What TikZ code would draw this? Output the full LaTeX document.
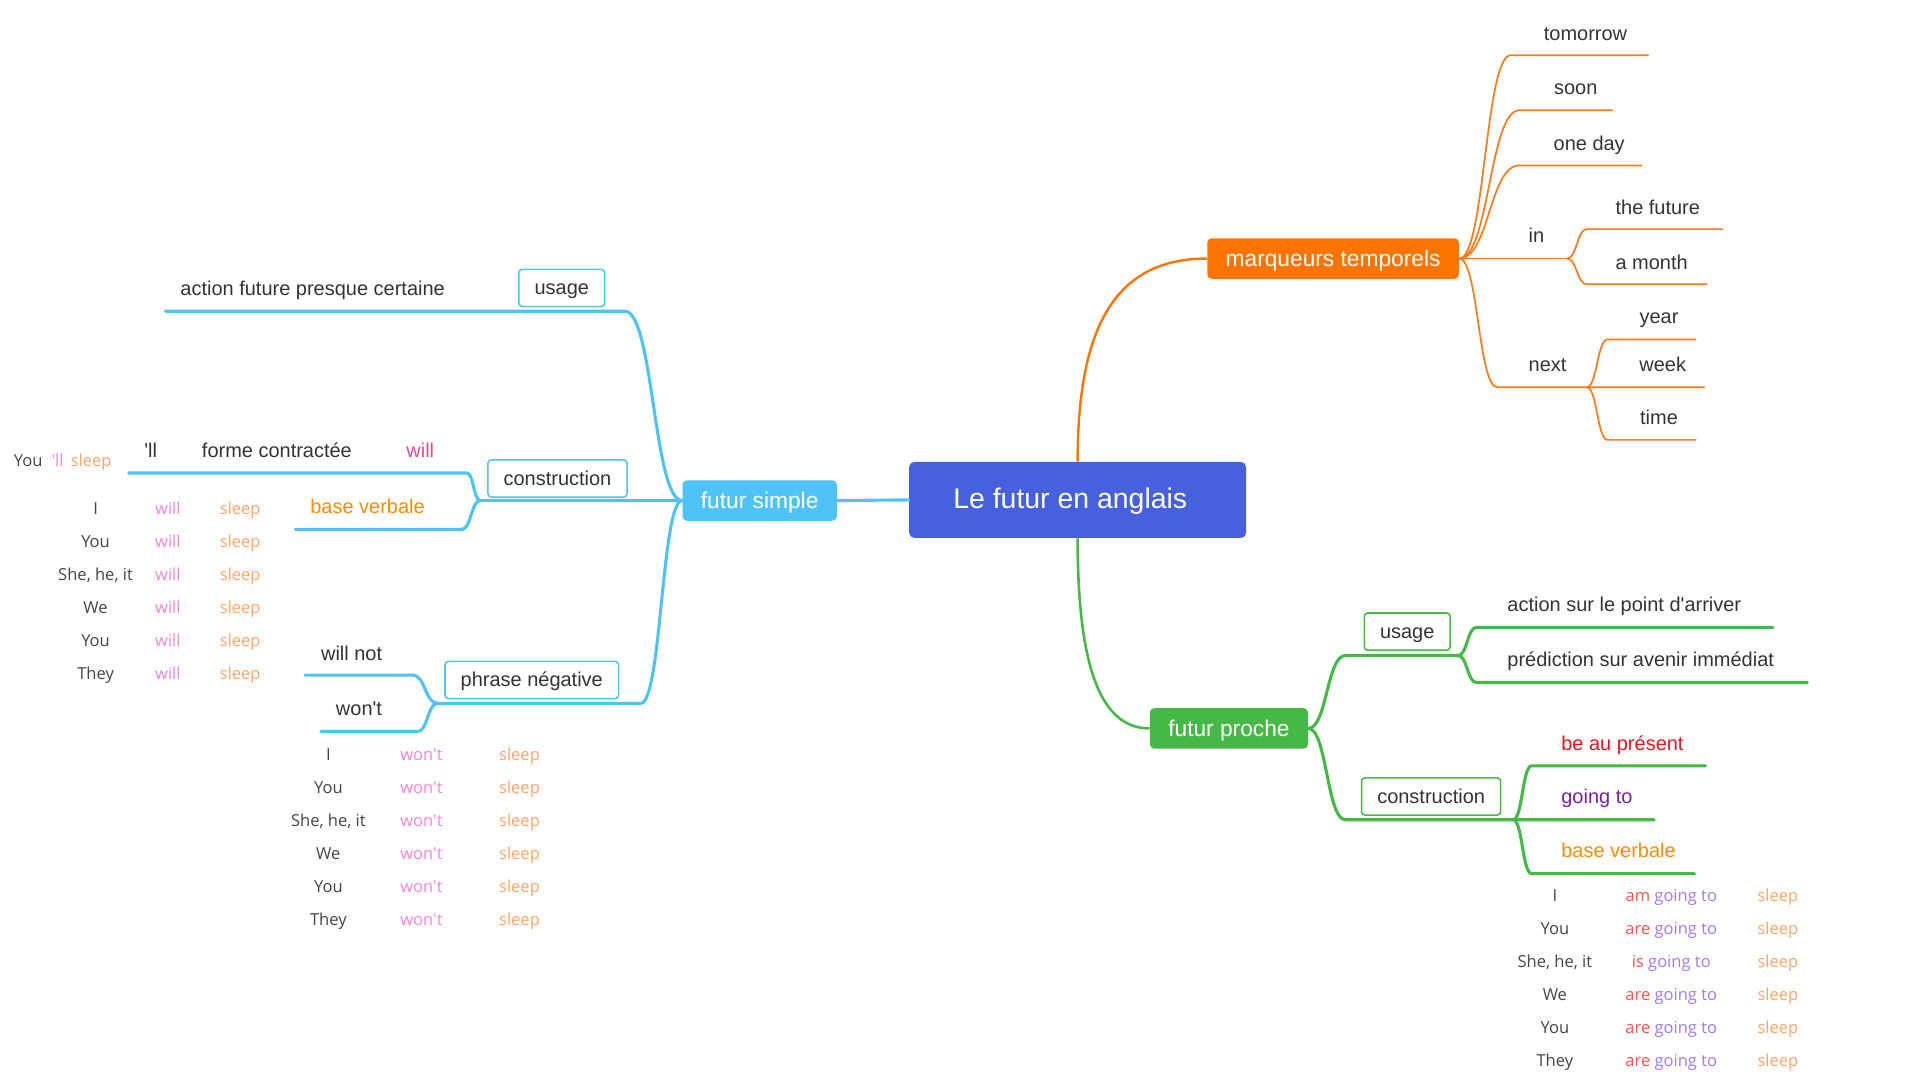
\documentclass[tikz,border=0pt]{standalone}
\usepackage{fontspec}
\setmainfont{Liberation Sans}
\newfontfamily\mainf{Liberation Sans}
\newfontfamily\lightf{Open Sans}
\usetikzlibrary{calc}
\definecolor{cblue}{HTML}{4760DE}
\definecolor{sky}{HTML}{4FC3F7}
\definecolor{orng}{HTML}{FF7300}
\definecolor{orngl}{HTML}{FF7A1A}
\definecolor{grn}{HTML}{45B945}
\definecolor{txt}{HTML}{333333}
\definecolor{tblt}{HTML}{444444}
\definecolor{pinkw}{HTML}{F585DA}
\definecolor{sleepc}{HTML}{FFA468}
\definecolor{redc}{HTML}{E8141E}
\definecolor{purp}{HTML}{7B1FA2}
\definecolor{basec}{HTML}{FF8A00}
\definecolor{hotpink}{HTML}{E94B8B}
\definecolor{amred}{HTML}{FF5050}
\definecolor{goingc}{HTML}{A07AF4}
\tikzset{
  lbl/.style={font=\mainf\fontsize{11.6}{13}\selectfont, text=txt, inner sep=0pt, anchor=mid, yshift=-0.6mm},
  lblw/.style={lbl, anchor=mid west},
  tbl/.style={font=\lightf\fontsize{9.6}{11}\selectfont, inner sep=0pt, anchor=mid, yshift=-0.5mm},
  grp/.style={rounded corners=2.5pt, font=\mainf\fontsize{13.2}{15}\selectfont, text=white, inner xsep=3.75mm, inner ysep=0pt, minimum height=8.25mm, text height=0.9em, text depth=0pt},
  subbox/.style={draw, fill=white, rounded corners=2pt, line width=0.9pt, font=\mainf\fontsize{11.6}{13}\selectfont, text=txt, inner xsep=3.2mm, inner ysep=0pt, minimum height=7.6mm, text height=0.8em, text depth=0pt},
  thickbr/.style={line width=1.8pt, line cap=round, line join=round},
  thinbr/.style={line width=1pt, line cap=round, line join=round},
}
\newcommand{\bcurve}[4]{\draw[#1] let \p1=(#2), \p2=(#3) in (#2) .. controls ({0.5*\x1+0.5*\x2},\y1) and ({0.5*\x1+0.5*\x2},\y2) .. (#3) -- (#4);}
\begin{document}
\begin{tikzpicture}[x=0.25mm,y=-0.25mm]
\useasboundingbox (0,0) rectangle (1567,881);

% ---------- main nodes ----------
\node[fill=cblue, rounded corners=3pt, minimum width=68.75mm, minimum height=15.5mm, text=white, font=\mainf\fontsize{16.5}{19}\selectfont, text height=0.95em, text depth=0pt] (root) at (879.5,408) {\kern-3mm Le futur en anglais};
\node[grp, fill=sky] (fs) at (620,408.5) {futur simple};
\node[grp, fill=orng] (mt) at (1088,211) {marqueurs temporels};
\node[grp, fill=grn] (fp) at (1003,594.5) {futur proche};

\draw[sky, thickbr] (root.west) -- (fs.east);
\draw[orng, line width=1.4pt] (root.north) .. controls +(0,-110) and +(-75,0) .. (mt.west);
\draw[grn, line width=1.5pt] (root.south) .. controls +(0,105) and +(-40,0) .. (fp.west);

% ---------- futur simple ----------
\node[subbox, draw=sky] (u1) at (458.5,235) {usage};
\node[lblw] (a1) at (147,235) {action future presque certaine};
\coordinate (u1a) at (510,254);
\coordinate (u1b) at (135,254);
\bcurve{sky, thickbr}{fs.west}{u1a}{u1b}

\node[subbox, draw=sky] (c1) at (455,390.5) {construction};
\coordinate (cj) at (392,408.5);
\draw[sky, thickbr] (fs.west) -- (cj);
\coordinate (fc1) at (381,386);
\coordinate (fc2) at (105,386);
\coordinate (bv1) at (377,432);
\coordinate (bv2) at (241,432);
\bcurve{sky, thickbr}{cj}{fc1}{fc2}
\bcurve{sky, thickbr}{cj}{bv1}{bv2}
\node[lbl, text=hotpink] (willc) at (343,367) {will};
\node[lbl] (fct) at (226,367) {forme contractée};
\node[lbl] (ll) at (123,367) {'ll};
\node[tbl, anchor=mid west] (yls) at (11,375) {\textcolor{tblt}{You}\hspace{1mm} \textcolor{pinkw}{'ll}\hspace{0.6mm} \textcolor{sleepc}{sleep}};
\node[lbl, text=basec] (bvs) at (300,413) {base verbale};
\foreach \p [count=\i] in {I,You,{She, he, it},We,You,They}{
  \node[tbl, text=tblt] (wp\i) at (78,{387+27*\i}) {\p};
  \node[tbl, text=pinkw] (ww\i) at (137,{387+27*\i}) {will};
  \node[tbl, text=sleepc] (ws\i) at (196,{387+27*\i}) {sleep};
}

\node[subbox, draw=sky] (pn) at (434,555) {phrase négative};
\coordinate (pn1) at (523,574);
\coordinate (pj) at (357,574);
\bcurve{sky, thickbr}{fs.west}{pn1}{pj}
\coordinate (wn1) at (337,551);
\coordinate (wn2) at (249,551);
\coordinate (wt1) at (341,597);
\coordinate (wt2) at (262,597);
\bcurve{sky, thickbr}{pj}{wn1}{wn2}
\bcurve{sky, thickbr}{pj}{wt1}{wt2}
\node[lbl] (wnt) at (287,533) {will not};
\node[lbl] (wtt) at (293,578) {won't};
\foreach \p [count=\i] in {I,You,{She, he, it},We,You,They}{
  \node[tbl, text=tblt] (np\i) at (268,{588+27*\i}) {\p};
  \node[tbl, text=pinkw] (nw\i) at (344,{588+27*\i}) {won't};
  \node[tbl, text=sleepc] (ns\i) at (424,{588+27*\i}) {sleep};
}

% ---------- marqueurs temporels ----------
\coordinate (t1) at (1233,45);  \coordinate (t2) at (1345,45);
\coordinate (s1) at (1240,90);  \coordinate (s2) at (1316,90);
\coordinate (o1) at (1240,135); \coordinate (o2) at (1340,135);
\coordinate (ij) at (1279,211);
\coordinate (nx1) at (1222,316); \coordinate (nj) at (1295,316); \coordinate (nx2) at (1391,316);
\bcurve{orngl, thinbr}{mt.east}{t1}{t2}
\bcurve{orngl, thinbr}{mt.east}{s1}{s2}
\bcurve{orngl, thinbr}{mt.east}{o1}{o2}
\draw[orngl, thinbr] (mt.east) -- (ij);
\bcurve{orngl, thinbr}{mt.east}{nx1}{nx2}
\coordinate (tf1) at (1295,187); \coordinate (tf2) at (1406,187);
\coordinate (am1) at (1295,232); \coordinate (am2) at (1393,232);
\bcurve{orngl, thinbr}{ij}{tf1}{tf2}
\bcurve{orngl, thinbr}{ij}{am1}{am2}
\coordinate (y1) at (1312,277); \coordinate (y2) at (1384,277);
\coordinate (ti1) at (1312,359); \coordinate (ti2) at (1384,359);
\bcurve{orngl, thinbr}{nj}{y1}{y2}
\bcurve{orngl, thinbr}{nj}{ti1}{ti2}
\node[lbl] (tomo) at (1294,27) {tomorrow};
\node[lbl] (soon) at (1286,71) {soon};
\node[lbl] (oned) at (1297,117) {one day};
\node[lbl] (inn) at (1254,192) {in};
\node[lbl] (thef) at (1353,169) {the future};
\node[lbl] (amon) at (1348,214) {a month};
\node[lbl] (next) at (1263,297) {next};
\node[lbl] (year) at (1354,258) {year};
\node[lbl] (week) at (1357,297) {week};
\node[lbl] (time) at (1354,340) {time};

% ---------- futur proche ----------
\node[subbox, draw=grn] (u2) at (1148.5,515.5) {usage};
\coordinate (u2a) at (1098,535); \coordinate (uj2) at (1190,535);
\bcurve{grn, thickbr}{fp.east}{u2a}{uj2}
\coordinate (ap1) at (1205,512); \coordinate (ap2) at (1447,512);
\coordinate (pr1) at (1205,557); \coordinate (pr2) at (1475,557);
\bcurve{grn, thickbr}{uj2}{ap1}{ap2}
\bcurve{grn, thickbr}{uj2}{pr1}{pr2}
\node[lblw] (apt) at (1230,493) {action sur le point d'arriver};
\node[lblw] (prt) at (1230,538) {prédiction sur avenir immédiat};

\node[subbox, draw=grn] (c2) at (1168,650) {construction};
\coordinate (c2a) at (1098,669); \coordinate (cj2) at (1235,669); \coordinate (gt2) at (1350,669);
\bcurve{grn, thickbr}{fp.east}{c2a}{gt2}
\coordinate (be1) at (1250,625); \coordinate (be2) at (1392,625);
\coordinate (bb1) at (1250,713); \coordinate (bb2) at (1383,713);
\bcurve{grn, thickbr}{cj2}{be1}{be2}
\bcurve{grn, thickbr}{cj2}{bb1}{bb2}
\node[lblw, text=redc] (bep) at (1274,606) {be au présent};
\node[lblw, text=purp] (got) at (1274,650) {going to};
\node[lblw, text=basec] (bv3) at (1274,694) {base verbale};
\foreach \p [count=\i] in {I,You,{She, he, it},We,You,They}{
  \node[tbl, text=tblt] (gp\i) at (1269,{703+27*\i}) {\p};
  \node[tbl, text=sleepc] (gs\i) at (1451,{703+27*\i}) {sleep};
}
\foreach \a [count=\i] in {am,are,is,are,are,are}{
  \node[tbl] (ga\i) at (1364,{703+27*\i}) {\textcolor{amred}{\a} \textcolor{goingc}{going to}};
}
\end{tikzpicture}
\end{document}
